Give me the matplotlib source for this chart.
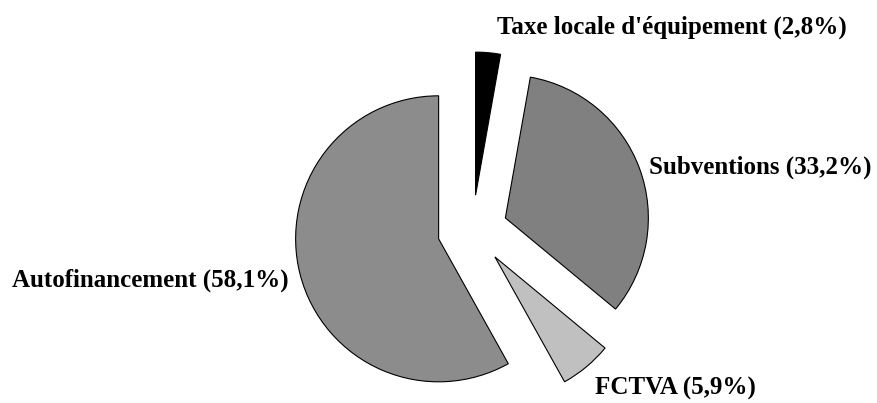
import matplotlib
matplotlib.use("Agg")
import matplotlib.pyplot as plt

# financing sources, clockwise from 12 o'clock
categories = ["Taxe locale d'équipement", "Subventions", "FCTVA", "Autofinancement"]
shares = [2.8, 33.2, 5.9, 58.1]
colors = ["#000000", "#808080", "#c0c0c0", "#8c8c8c"]

fig = plt.figure(figsize=(8.77, 4.03), dpi=100)
ax = fig.add_axes([0, 0, 1, 1])

# explode is in data units here (pixels), since the axes span the figure
ax.pie(shares, colors=colors, startangle=90, counterclock=False,
       explode=[35] * len(shares), center=(472.5, 173), radius=143,
       wedgeprops=dict(edgecolor="black", linewidth=0.8), frame=True)
ax.set_xlim(0, 877)
ax.set_ylim(0, 403)
ax.set_aspect("equal")
ax.axis("off")

labels = [f"{c} ({s:.1f}%)".replace(".", ",") for c, s in zip(categories, shares)]
font = dict(family="Liberation Serif", fontweight="bold", fontsize=18, va="center")
# label anchors (left edge, vertical centre) in pixel units
pos = [(497, 403 - 27), (649, 403 - 167), (595, 403 - 388), (12, 403 - 280)]
for lab, (x, y) in zip(labels, pos):
    ax.text(x, y, lab, ha="left", **font)

fig.savefig("out.png", dpi=100, facecolor="white")
